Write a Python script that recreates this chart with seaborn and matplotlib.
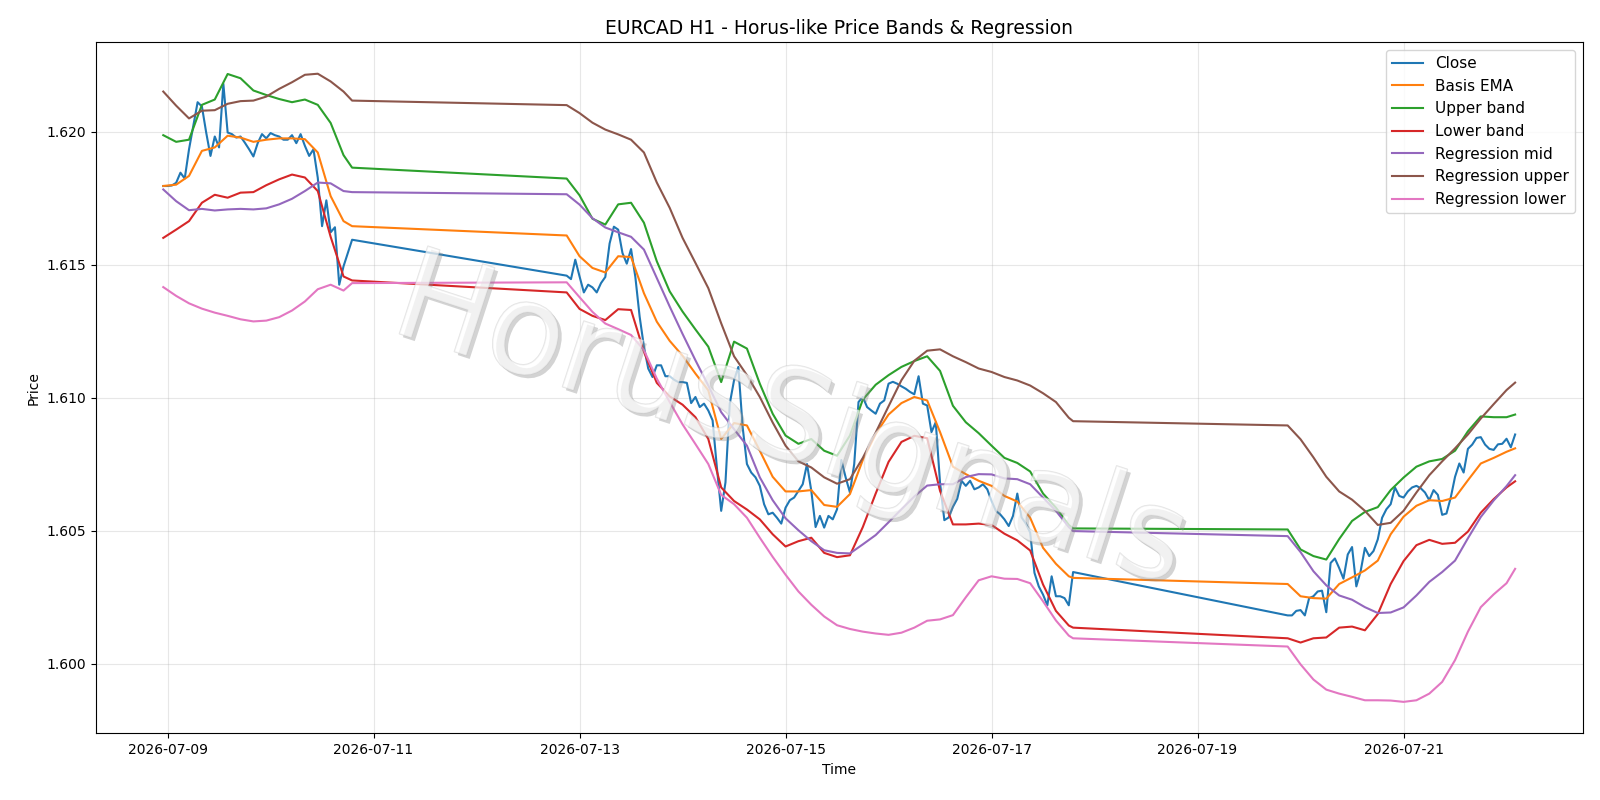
import matplotlib
matplotlib.use("Agg")
import numpy as np
import pandas as pd
import matplotlib.pyplot as plt
import matplotlib.dates as mdates
import matplotlib.patheffects as pe
import seaborn as sns

# ==============================
# Data
# ==============================

# trading sessions (weekend gaps are bridged by straight lines)
sessions = [
    ("2026-07-08 23:00", "2026-07-10 19:00"),
    ("2026-07-12 21:00", "2026-07-17 19:00"),
    ("2026-07-19 21:00", "2026-07-22 02:00"),
]

# hourly close
close = [
    # session 1
    1.61796, 1.61796, 1.61798, 1.61808, 1.61846, 1.61824, 1.61934, 1.62022, 1.62111, 1.62095,
    1.61997, 1.61909, 1.61982, 1.61941, 1.62180, 1.61997, 1.61991, 1.61978, 1.61982, 1.61959,
    1.61934, 1.61907, 1.61957, 1.61991, 1.61975, 1.61995, 1.61987, 1.61982, 1.61970, 1.61970,
    1.61987, 1.61957, 1.61991, 1.61947, 1.61909, 1.61934, 1.61827, 1.61645, 1.61742, 1.61622,
    1.61641, 1.61425, 1.61494, 1.61544, 1.61594,
    # session 2
    1.61459, 1.61446, 1.61519, 1.61456, 1.61396, 1.61425, 1.61415, 1.61396, 1.61431, 1.61454,
    1.61580, 1.61643, 1.61632, 1.61544, 1.61504, 1.61559, 1.61454, 1.61305, 1.61192, 1.61110,
    1.61078, 1.61122, 1.61122, 1.61081, 1.61081, 1.61068, 1.61059, 1.61059, 1.61056, 1.60980,
    1.61003, 1.60965, 1.60978, 1.60952, 1.60915, 1.60738, 1.60575, 1.60682, 1.60978, 1.61066,
    1.61116, 1.60890, 1.60751, 1.60719, 1.60701, 1.60669, 1.60600, 1.60562, 1.60568, 1.60549,
    1.60527, 1.60587, 1.60615, 1.60625, 1.60650, 1.60675, 1.60751, 1.60650, 1.60514, 1.60556,
    1.60512, 1.60556, 1.60543, 1.60581, 1.60766, 1.60701, 1.60644, 1.60751, 1.60984, 1.61003,
    1.60965, 1.60952, 1.60940, 1.60978, 1.60990, 1.61053, 1.61060, 1.61053, 1.61043, 1.61034,
    1.61022, 1.61013, 1.61081, 1.60978, 1.60971, 1.60871, 1.60908, 1.60680, 1.60540, 1.60550,
    1.60590, 1.60620, 1.60688, 1.60669, 1.60688, 1.60656, 1.60663, 1.60675, 1.60656, 1.60612,
    1.60575, 1.60562, 1.60543, 1.60518, 1.60556, 1.60640, 1.60550, 1.60527, 1.60493, 1.60342,
    1.60291, 1.60260, 1.60220, 1.60329, 1.60254, 1.60254, 1.60247, 1.60220, 1.60345,
    # session 3
    1.60182, 1.60182, 1.60199, 1.60202, 1.60182, 1.60247, 1.60254, 1.60272, 1.60275, 1.60194,
    1.60379, 1.60396, 1.60360, 1.60320, 1.60411, 1.60439, 1.60291, 1.60348, 1.60436, 1.60405,
    1.60424, 1.60468, 1.60549, 1.60581, 1.60600, 1.60663, 1.60631, 1.60625, 1.60648, 1.60663,
    1.60669, 1.60660, 1.60644, 1.60615, 1.60653, 1.60635, 1.60560, 1.60565, 1.60625, 1.60703,
    1.60753, 1.60719, 1.60808, 1.60824, 1.60849, 1.60852, 1.60824, 1.60808, 1.60804, 1.60825,
    1.60827, 1.60846, 1.60814, 1.60862,
]

# smooth lines, read every 3 hours (plus the last bar of each session)
basis_ema = [
    1.61796, 1.61801, 1.61834, 1.61928, 1.61941, 1.61985, 1.61978, 1.61962, 1.61970, 1.61975,
    1.61975, 1.61972, 1.61922, 1.61758, 1.61664, 1.61645,
    1.61610, 1.61532, 1.61488, 1.61471, 1.61532, 1.61529, 1.61393, 1.61286, 1.61214, 1.61158,
    1.61091, 1.61028, 1.60845, 1.60905, 1.60896, 1.60801, 1.60703, 1.60648, 1.60648, 1.60653,
    1.60597, 1.60590, 1.60638, 1.60766, 1.60864, 1.60937, 1.60980, 1.61003, 1.60990, 1.60871,
    1.60741, 1.60713, 1.60688, 1.60669, 1.60631, 1.60610, 1.60549, 1.60436, 1.60376, 1.60329,
    1.60323,
    1.60300, 1.60254, 1.60247, 1.60245, 1.60300, 1.60325, 1.60351, 1.60388, 1.60487, 1.60553,
    1.60594, 1.60615, 1.60612, 1.60625, 1.60690, 1.60753, 1.60774, 1.60797, 1.60810,
]
upper_band = [
    1.61987, 1.61962, 1.61970, 1.62101, 1.62121, 1.62217, 1.62201, 1.62155, 1.62138, 1.62123,
    1.62111, 1.62121, 1.62101, 1.62033, 1.61912, 1.61865,
    1.61824, 1.61761, 1.61673, 1.61651, 1.61727, 1.61733, 1.61658, 1.61513, 1.61400, 1.61324,
    1.61257, 1.61192, 1.61059, 1.61211, 1.61185, 1.61053, 1.60940, 1.60858, 1.60827, 1.60845,
    1.60801, 1.60782, 1.60858, 1.60993, 1.61049, 1.61085, 1.61116, 1.61138, 1.61156, 1.61101,
    1.60970, 1.60908, 1.60867, 1.60820, 1.60774, 1.60755, 1.60723, 1.60640, 1.60587, 1.60522,
    1.60509,
    1.60505, 1.60430, 1.60405, 1.60392, 1.60469, 1.60537, 1.60571, 1.60589, 1.60653, 1.60700,
    1.60741, 1.60761, 1.60770, 1.60801, 1.60874, 1.60930, 1.60927, 1.60927, 1.60937,
]
lower_band = [
    1.61601, 1.61632, 1.61664, 1.61733, 1.61763, 1.61752, 1.61771, 1.61773, 1.61799, 1.61821,
    1.61839, 1.61828, 1.61777, 1.61605, 1.61456, 1.61441,
    1.61396, 1.61334, 1.61308, 1.61292, 1.61333, 1.61330, 1.61173, 1.61056, 1.61005, 1.60974,
    1.60927, 1.60845, 1.60663, 1.60612, 1.60580, 1.60543, 1.60487, 1.60441, 1.60461, 1.60474,
    1.60417, 1.60401, 1.60408, 1.60514, 1.60640, 1.60759, 1.60834, 1.60857, 1.60848, 1.60650,
    1.60524, 1.60524, 1.60527, 1.60522, 1.60489, 1.60464, 1.60426, 1.60298, 1.60199, 1.60144,
    1.60136,
    1.60096, 1.60080, 1.60096, 1.60099, 1.60136, 1.60140, 1.60126, 1.60187, 1.60300, 1.60386,
    1.60446, 1.60466, 1.60451, 1.60455, 1.60497, 1.60568, 1.60619, 1.60663, 1.60686,
]
reg_mid = [
    1.61783, 1.61739, 1.61705, 1.61710, 1.61704, 1.61708, 1.61710, 1.61708, 1.61712, 1.61727,
    1.61748, 1.61777, 1.61809, 1.61806, 1.61777, 1.61773,
    1.61765, 1.61726, 1.61675, 1.61640, 1.61622, 1.61605, 1.61557, 1.61450, 1.61343, 1.61240,
    1.61141, 1.61046, 1.60946, 1.60882, 1.60820, 1.60701, 1.60615, 1.60547, 1.60502, 1.60461,
    1.60427, 1.60417, 1.60415, 1.60449, 1.60484, 1.60532, 1.60581, 1.60629, 1.60670, 1.60675,
    1.60675, 1.60702, 1.60713, 1.60712, 1.60697, 1.60694, 1.60675, 1.60625, 1.60575, 1.60514,
    1.60499,
    1.60480, 1.60420, 1.60348, 1.60295, 1.60257, 1.60241, 1.60213, 1.60191, 1.60193, 1.60212,
    1.60257, 1.60308, 1.60345, 1.60388, 1.60472, 1.60552, 1.60614, 1.60668, 1.60709,
]
reg_upper = [
    1.62151, 1.62098, 1.62050, 1.62079, 1.62081, 1.62105, 1.62115, 1.62117, 1.62132, 1.62161,
    1.62186, 1.62214, 1.62218, 1.62189, 1.62151, 1.62117,
    1.62100, 1.62070, 1.62034, 1.62008, 1.61990, 1.61970, 1.61922, 1.61809, 1.61714, 1.61601,
    1.61507, 1.61412, 1.61280, 1.61156, 1.61085, 1.61003, 1.60907, 1.60820, 1.60761, 1.60738,
    1.60701, 1.60677, 1.60694, 1.60774, 1.60869, 1.60968, 1.61066, 1.61139, 1.61177, 1.61182,
    1.61156, 1.61134, 1.61110, 1.61097, 1.61078, 1.61065, 1.61046, 1.61017, 1.60984, 1.60925,
    1.60912,
    1.60896, 1.60844, 1.60776, 1.60703, 1.60648, 1.60617, 1.60575, 1.60522, 1.60530, 1.60575,
    1.60644, 1.60709, 1.60761, 1.60810, 1.60862, 1.60922, 1.60976, 1.61029, 1.61057,
]
reg_lower = [
    1.61416, 1.61383, 1.61355, 1.61335, 1.61320, 1.61308, 1.61295, 1.61287, 1.61290, 1.61303,
    1.61328, 1.61362, 1.61408, 1.61425, 1.61403, 1.61431,
    1.61434, 1.61378, 1.61323, 1.61279, 1.61258, 1.61236, 1.61179, 1.61072, 1.60984, 1.60900,
    1.60826, 1.60751, 1.60635, 1.60600, 1.60549, 1.60474, 1.60402, 1.60335, 1.60272, 1.60222,
    1.60178, 1.60145, 1.60131, 1.60121, 1.60114, 1.60109, 1.60117, 1.60136, 1.60162, 1.60167,
    1.60183, 1.60250, 1.60314, 1.60329, 1.60320, 1.60319, 1.60303, 1.60235, 1.60163, 1.60106,
    1.60096,
    1.60065, 1.59998, 1.59941, 1.59903, 1.59888, 1.59876, 1.59863, 1.59863, 1.59862, 1.59857,
    1.59863, 1.59888, 1.59932, 1.60014, 1.60121, 1.60213, 1.60261, 1.60303, 1.60357,
]

labels = ["Close", "Basis EMA", "Upper band", "Lower band",
          "Regression mid", "Regression upper", "Regression lower"]


# ==============================
# Time axes
# ==============================

def hourly_index():
    return pd.DatetimeIndex(np.concatenate(
        [pd.date_range(a, b, freq="h").values for a, b in sessions]))


def knot_index():
    parts = []
    for a, b in sessions:
        r = pd.date_range(a, b, freq="3h")
        if r[-1] != pd.Timestamp(b):
            r = r.append(pd.DatetimeIndex([pd.Timestamp(b)]))
        parts.append(r.values)
    return pd.DatetimeIndex(np.concatenate(parts))


t_close = hourly_index()
t_knot = knot_index()

df_close = pd.DataFrame({"time": t_close, "price": close})
df_smooth = pd.DataFrame({
    "time": t_knot,
    "Basis EMA": basis_ema,
    "Upper band": upper_band,
    "Lower band": lower_band,
    "Regression mid": reg_mid,
    "Regression upper": reg_upper,
    "Regression lower": reg_lower,
})


# ==============================
# Plot
# ==============================

fig = plt.figure(figsize=(16, 8), dpi=100)
ax = fig.add_subplot(111)
fig.subplots_adjust(left=0.0598, right=0.9892, top=0.9471, bottom=0.0834)

palette = sns.color_palette("tab10", 7)

sns.lineplot(data=df_close, x="time", y="price", ax=ax, color=palette[0],
             label=labels[0], linewidth=1.5)
for i, name in enumerate(labels[1:], start=1):
    sns.lineplot(data=df_smooth, x="time", y=name, ax=ax, color=palette[i],
                 label=name, linewidth=1.5)

ax.set_title("EURCAD H1 - Horus-like Price Bands & Regression", fontsize=13.5)
ax.set_xlabel("Time")
ax.set_ylabel("Price")
ax.grid(True, alpha=0.3)
ax.xaxis.set_major_locator(mdates.DayLocator(bymonthday=range(1, 32, 2)))
ax.xaxis.set_major_formatter(mdates.DateFormatter("%Y-%m-%d"))
ax.legend(loc="upper right", fontsize=11)

# watermark
fig.text(0.494, 0.47, "HorusSignals", fontsize=91, rotation=-18,
         ha="center", va="center", color="white", alpha=0.45,
         path_effects=[
             pe.SimplePatchShadow(offset=(2.5, -2.5), shadow_rgbFace=(0.55, 0.55, 0.55), alpha=0.38),
             pe.Stroke(linewidth=1.0, foreground=(0.76, 0.76, 0.76)),
             pe.Normal(),
         ])

fig.savefig("out.png", dpi=100)
